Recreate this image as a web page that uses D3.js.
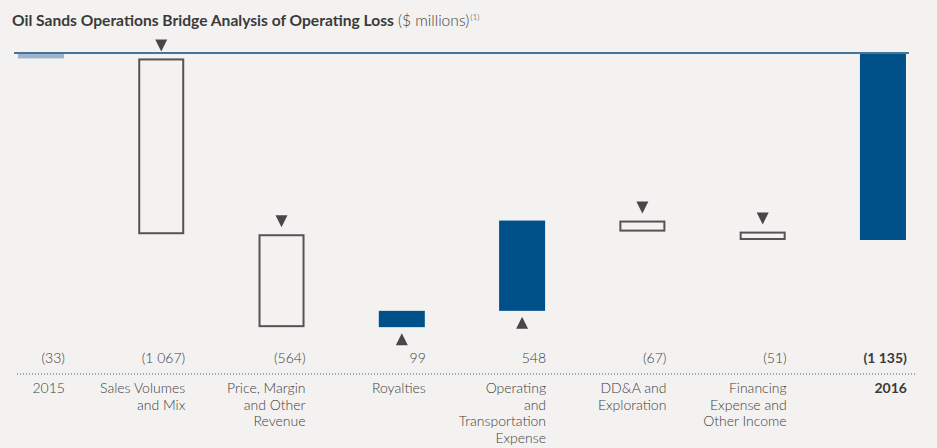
<!DOCTYPE html>
<html><head><meta charset="utf-8">
<script src="https://cdn.jsdelivr.net/npm/d3@7"></script>
<style>
html,body{margin:0;padding:0;background:#f3f2f0;}
svg{display:block;font-family:Lato,"Open Sans",sans-serif;}
</style></head>
<body>
<svg id="chart" width="937" height="448"></svg>
<script>
// ---- data ----
const categories = ["2015","Sales Volumes and Mix","Price, Margin and Other Revenue","Royalties","Operating and Transportation Expense","DD&A and Exploration","Financing Expense and Other Income","2016"];
const categoryLines = [["2015"],["Sales Volumes","and Mix"],["Price, Margin","and Other","Revenue"],["Royalties"],["Operating","and","Transportation","Expense"],["DD&A and","Exploration"],["Financing","Expense and","Other Income"],["2016"]];
const values = [-33,-1067,-564,99,548,-67,-51,-1135];
const valueLabels = ["(33)","(1 067)","(564)","99","548","(67)","(51)","(1 135)"];
const kinds = ["start","step","step","step","step","step","step","total"];

const svg = d3.select("#chart");

// compute waterfall
let cum = 0;
const bars = values.map((v,i)=>{
  let y0,y1;
  if(kinds[i]==="start"){ y0=0; y1=v; cum=v; }
  else if(kinds[i]==="total"){ y0=0; y1=v; }
  else { y0=cum; y1=cum+v; cum=cum+v; }
  return {i, cat:categories[i], v, y0, y1, kind:kinds[i]};
});

const x = d3.scaleBand().domain(categories).range([-19.2, 943.1]).paddingInner(0.6176).paddingOuter(0.3088);
const y = d3.scaleLinear().domain([0,-1135]).range([53,240]);

const lightCol = "#404040";

// title
const title = svg.append("text").attr("x",12).attr("y",26).attr("fill","#3a3a3a").style("font-size","15.6px");
title.append("tspan").attr("font-weight","bold").text("Oil Sands Operations Bridge Analysis of Operating Loss");
title.append("tspan").attr("dx",4).attr("fill",lightCol).attr("font-weight",300).style("font-size","15.6px").text("($ millions)");
title.append("tspan").attr("dx",1).attr("dy",-6).attr("fill",lightCol).attr("font-weight",300).style("font-size","8.5px").text("(1)");

// baseline
svg.append("line").attr("x1",14).attr("x2",x(categories[7])+x.bandwidth()+3)
  .attr("y1",y(0)).attr("y2",y(0)).attr("stroke","#0d4a78").attr("stroke-width",1.6);

// bars
bars.forEach(b=>{
  const top = Math.min(y(b.y0),y(b.y1)), h = Math.abs(y(b.y1)-y(b.y0));
  const bx = x(b.cat), bw = x.bandwidth();
  if(b.kind==="start"){
    svg.append("rect").attr("x",bx).attr("y",top+1).attr("width",bw).attr("height",h-1).attr("fill","#9eb4cc");
  } else if(b.kind==="total"){
    svg.append("rect").attr("x",bx).attr("y",top+1).attr("width",bw).attr("height",h-1).attr("fill","#00508a");
  } else if(b.v<0){
    svg.append("rect").attr("x",bx+1).attr("y",top+1).attr("width",bw-2).attr("height",h-2)
      .attr("fill","none").attr("stroke","#555356").attr("stroke-width",2);
    const cx = bx+bw/2, ty = top-7;
    svg.append("path").attr("d",`M${cx-6},${ty-12}L${cx+6},${ty-12}L${cx},${ty}Z`).attr("fill","#4a4549");
  } else {
    svg.append("rect").attr("x",bx).attr("y",top).attr("width",bw).attr("height",h).attr("fill","#00508a");
    const cx = bx+bw/2, ty = top+h+6;
    svg.append("path").attr("d",`M${cx-6},${ty+12}L${cx+6},${ty+12}L${cx},${ty}Z`).attr("fill","#4a4549");
  }
});

// value labels
bars.forEach(b=>{
  svg.append("text").attr("x",x(b.cat)+x.bandwidth()+1).attr("y",363).attr("text-anchor","end")
    .attr("fill", b.kind==="total"?"#3a3a3a":lightCol).attr("font-weight",b.kind==="total"?"bold":300)
    .style("font-size","14px").text(valueLabels[b.i]);
});

// dotted separator
svg.append("line").attr("x1",17).attr("x2",917).attr("y1",374).attr("y2",374)
  .attr("stroke","#2f5f88").attr("stroke-width",1).attr("stroke-dasharray","1,2");

// category labels
bars.forEach(b=>{
  const t = svg.append("text").attr("x",x(b.cat)+x.bandwidth()+1).attr("y",393).attr("text-anchor","end")
    .attr("fill", b.kind==="total"?"#3a3a3a":lightCol).attr("font-weight",b.kind==="total"?"bold":300)
    .style("font-size","14px");
  categoryLines[b.i].forEach((ln,k)=>{
    t.append("tspan").attr("x",x(b.cat)+x.bandwidth()+1).attr("dy",k===0?0:16.5).text(ln);
  });
});
</script>
</body></html>
